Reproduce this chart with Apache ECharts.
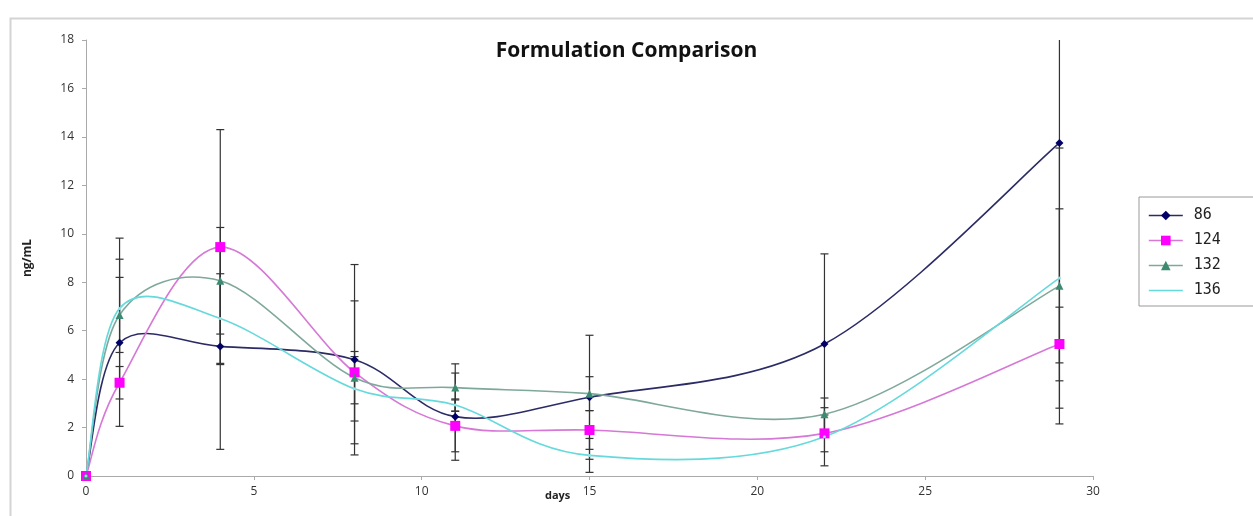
<!DOCTYPE html>
<html>
<head>
<meta charset="utf-8">
<script src="https://cdn.jsdelivr.net/npm/echarts@6/dist/echarts.min.js"></script>
<style>html,body{margin:0;padding:0;background:#fff;}#c{width:1253px;height:516px;}</style>
</head>
<body>
<div id="c"></div>
<script>
var days = [0, 1, 4, 8, 11, 15, 22, 29];
var seriesNames = ['86', '124', '132', '136'];
var s86  = [0, 5.5, 5.35, 4.8, 2.45, 3.25, 5.45, 13.75];
var e86  = [0, 3.45, 4.25, 3.93, 1.8, 2.56, 3.72, 11.6];
var s124 = [0, 3.85, 9.45, 4.28, 2.07, 1.9, 1.76, 5.45];
var e124 = [0, 0.67, 4.85, 2.95, 1.07, 0.8, 0.76, 1.52];
var s132 = [0, 6.65, 8.06, 4.06, 3.65, 3.4, 2.55, 7.85];
var e132 = [0, 1.55, 2.2, 1.08, 0.98, 0.7, 0.67, 3.18];
var s136 = [0, 6.92, 6.5, 3.6, 2.93, 0.85, 1.62, 8.17];
var e136 = [0, 2.9, 1.85, 1.33, 0.25, 0.7, 1.2, 5.37];

var values = [s86, s124, s132, s136];
var errors = [e86, e124, e132, e136];
var lineColors = ['#2b2b66', '#d678d6', '#7fa89c', '#66d9dc'];
var markColors = ['#000066', '#ff00ff', '#3d8a72', '#8fe3e5'];
var symbols = ['diamond', 'rect', 'triangle', 'circle'];
var symSizes = [8, 10, 8, 3];
var YMAX = 18;

var chart = echarts.init(document.getElementById('c'));
var series = [];

// error bars
values.forEach(function (vals, k) {
  var errData = days.map(function (d, i) { return [d, vals[i] - errors[k][i], vals[i] + errors[k][i]]; });
  series.push({
    type: 'custom',
    name: seriesNames[k] + ' err',
    z: 1,
    silent: true,
    data: errData,
    renderItem: function (params, api) {
      var x = api.value(0);
      if (api.value(2) - api.value(1) <= 0) return null;
      var lo = Math.max(0, api.value(1));
      var hi = Math.min(YMAX, api.value(2));
      var pLo = api.coord([x, lo]);
      var pHi = api.coord([x, hi]);
      var w = 4;
      var st = { stroke: '#333', lineWidth: 1.2 };
      var children = [
        { type: 'line', shape: { x1: pLo[0], y1: pLo[1], x2: pHi[0], y2: pHi[1] }, style: st }
      ];
      if (api.value(1) >= 0) children.push({ type: 'line', shape: { x1: pLo[0] - w, y1: pLo[1], x2: pLo[0] + w, y2: pLo[1] }, style: st });
      if (api.value(2) <= YMAX) children.push({ type: 'line', shape: { x1: pHi[0] - w, y1: pHi[1], x2: pHi[0] + w, y2: pHi[1] }, style: st });
      return { type: 'group', children: children };
    }
  });
});

// smoothed curves (Catmull-Rom segments through the data points, in pixel space)
values.forEach(function (vals, k) {
  var n = days.length;
  var segs = [];
  for (var i = 0; i < n - 1; i++) {
    var a = Math.max(0, i - 1), d = Math.min(n - 1, i + 2);
    segs.push([days[a], vals[a], days[i], vals[i], days[i + 1], vals[i + 1], days[d], vals[d]]);
  }
  series.push({
    type: 'custom',
    name: seriesNames[k] + ' curve',
    z: 2,
    silent: true,
    clip: true,
    encode: { x: [0, 2, 4, 6], y: [1, 3, 5, 7] },
    data: segs,
    renderItem: function (params, api) {
      var p0 = api.coord([api.value(0), api.value(1)]);
      var p1 = api.coord([api.value(2), api.value(3)]);
      var p2 = api.coord([api.value(4), api.value(5)]);
      var p3 = api.coord([api.value(6), api.value(7)]);
      var c1 = [p1[0] + (p2[0] - p0[0]) / 6, p1[1] + (p2[1] - p0[1]) / 6];
      var c2 = [p2[0] - (p3[0] - p1[0]) / 6, p2[1] - (p3[1] - p1[1]) / 6];
      return {
        type: 'bezierCurve',
        shape: { x1: p1[0], y1: p1[1], x2: p2[0], y2: p2[1], cpx1: c1[0], cpy1: c1[1], cpx2: c2[0], cpy2: c2[1] },
        style: { stroke: lineColors[k], lineWidth: 1.6, fill: null }
      };
    }
  });
});

// markers
values.forEach(function (vals, k) {
  series.push({
    type: 'line',
    name: seriesNames[k],
    z: 3,
    data: days.map(function (d, i) { return [d, vals[i]]; }),
    symbol: symbols[k],
    showSymbol: true,
    symbolSize: symSizes[k],
    lineStyle: { color: lineColors[k], width: 1.6, opacity: 0 },
    itemStyle: { color: markColors[k] }
  });
});

chart.setOption({
  animation: false,
  backgroundColor: '#fff',
  title: {
    text: 'Formulation Comparison',
    left: 'center', top: 36,
    textStyle: { fontFamily: 'Open Sans', fontWeight: 'bold', fontSize: 21, color: '#111' }
  },
  legend: {
    orient: 'vertical',
    left: 1139, top: 197,
    data: seriesNames.map(function (nm, k) {
      var item = { name: nm, lineStyle: { color: lineColors[k], width: 1.6, opacity: 1 } };
      if (k === 3) item.itemStyle = { opacity: 0 };
      return item;
    }),
    itemWidth: 34, itemHeight: 12, itemGap: 10,
    padding: [11, 60, 8, 9],
    borderColor: '#999', borderWidth: 1,
    textStyle: { fontFamily: 'DejaVu Sans Mono', fontSize: 15, color: '#222', padding: [0, 0, 0, 6] }
  },
  grid: { left: 86, right: 160, top: 40, bottom: 40 },
  xAxis: {
    type: 'value', min: 0, max: 30, interval: 5,
    axisLine: { lineStyle: { color: '#aaa' } },
    axisTick: { show: true, length: 4, lineStyle: { color: '#aaa' } },
    splitLine: { show: false },
    axisLabel: { color: '#333', fontFamily: 'Open Sans', fontSize: 12, margin: 10 }
  },
  yAxis: {
    type: 'value', min: 0, max: 18, interval: 2,
    name: 'ng/mL', nameLocation: 'middle', nameGap: 52,
    nameTextStyle: { fontFamily: 'Open Sans', fontWeight: 'bold', fontSize: 12, color: '#222' },
    axisLine: { show: true, lineStyle: { color: '#aaa' } },
    axisTick: { show: true, length: 4, lineStyle: { color: '#aaa' } },
    splitLine: { show: false },
    axisLabel: { color: '#333', fontFamily: 'Open Sans', fontSize: 12, margin: 12 }
  },
  graphic: [
    { type: 'rect', left: 8, top: 16, shape: { width: 1400, height: 600 }, style: { fill: 'none', stroke: '#d4d4d4', lineWidth: 2 }, z: -10 },
    { type: 'text', left: 545, top: 490, style: { text: 'days', font: 'bold 11px "Open Sans"', fill: '#222' } }
  ],
  series: series
});
</script>
</body>
</html>
